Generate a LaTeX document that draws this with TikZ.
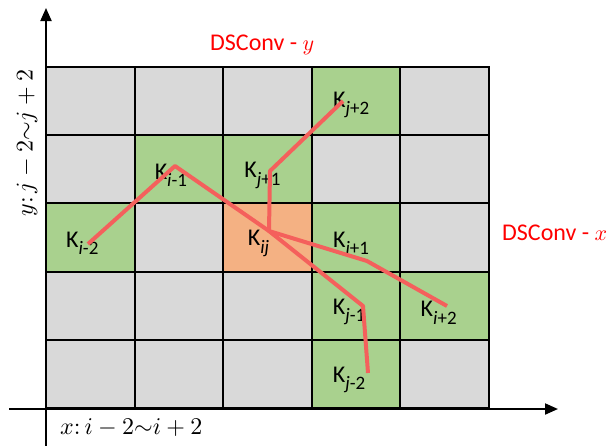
\documentclass[tikz,border=0pt]{standalone}
\usepackage{fontspec}
\setmainfont{Carlito}
\usepackage{graphicx}
\usepackage{tikz}
\usetikzlibrary{arrows.meta,positioning,calc}
\definecolor{kgray}{RGB}{217,217,217}
\definecolor{kgreen}{RGB}{169,209,142}
\definecolor{korange}{RGB}{244,177,131}
\definecolor{kred}{RGB}{244,96,92}
\tikzset{
  cell/.style={draw, line width=2pt, fill=kgray, minimum width=88.6pt,
               minimum height=68.2pt, inner sep=0pt},
  klabel/.style={inner sep=0pt, font=\fontsize{24}{26}\selectfont},
  path/.style={kred, line width=4pt, line join=round},
  axis/.style={line width=2pt, -{Triangle[length=13pt,width=11pt]}},
  title/.style={text=red, inner sep=0pt, font=\fontsize{24}{26}\selectfont},
  axlabel/.style={inner sep=0pt},
}
\newcommand{\ksub}[2]{K\raisebox{-7.5pt}{\fontsize{19}{19}\selectfont\textit{#1}#2}}
\newcommand{\bigmath}[2][2.4]{\scalebox{#1}{\fontsize{10}{12}\selectfont$#2$}}

\begin{document}
\begin{tikzpicture}[x=1pt, y=-1pt]
  \useasboundingbox (0,0) rectangle (615,445);
  % grid
  \foreach \c in {0,...,4}
    \foreach \r in {0,...,4}
      \node[cell] (c\c\r) at ({90.3+88.6*\c},{101.1+68.2*\r}) {};
  \foreach \c/\r in {3/0,1/1,2/1,0/2,3/2,3/3,4/3,3/4}
    \node[cell, fill=kgreen] (g\c\r) at (c\c\r) {};
  \node[cell, fill=korange] (o22) at (c22) {};
  % labels
  \node[klabel, xshift=-8pt, yshift=-6pt] (kim2) at (c02) {\ksub{i}{-2}};
  \node[klabel, xshift=-8pt, yshift=-6pt] (kim1) at (c11) {\ksub{i}{-1}};
  \node[klabel, xshift=-5pt, yshift=-6pt] (kjp1) at (c21) {\ksub{j}{+1}};
  \node[klabel, xshift=-5pt, yshift=-4pt] (kjp2) at (c30) {\ksub{j}{+2}};
  \node[klabel, xshift=-9pt, yshift=-6pt] (kij) at (c22) {\ksub{ij}{}};
  \node[klabel, xshift=-5pt, yshift=-6pt] (kip1) at (c32) {\ksub{i}{+1}};
  \node[klabel, xshift=-7pt, yshift=-6pt] (kjm1) at (c33) {\ksub{j}{-1}};
  \node[klabel, xshift=-6pt, yshift=-7pt] (kip2) at (c43) {\ksub{i}{+2}};
  \node[klabel, xshift=-7pt, yshift=-6pt] (kjm2) at (c34) {\ksub{j}{-2}};
  % axes
  \coordinate (ax0) at (9,409);
  \coordinate (ax1) at (558,409);
  \coordinate (ay0) at (46,446);
  \coordinate (ay1) at (46,8);
  \draw[axis] (ax0) -- (ax1);
  \draw[axis] (ay0) -- (ay1);
  \node[axlabel, anchor=west] (xlab) at (60,428)
    {\bigmath{x\mathpunct{:}i-2{\sim}i+2}};
  \node[axlabel, rotate=90] (ylab) at (27,143)
    {\bigmath{y\mathpunct{:}j-2{\sim}j+2}};
  \node[title, anchor=west] (dsy) at (210,45) {DSConv - \bigmath[2.2]{y}};
  \node[title, anchor=west] (dsx) at (502,233) {DSConv - \bigmath[2.2]{x}};
  % paths
  \coordinate (ctr) at (269,231);
  \coordinate (xa) at (88,244);
  \coordinate (xb) at (175,166);
  \coordinate (xd) at (367,261);
  \coordinate (xe) at (447,306);
  \coordinate (ya) at (343,101);
  \coordinate (yb) at (270,171);
  \coordinate (yd) at (363,306);
  \coordinate (ye) at (368,373);
  \draw[path] (xa) -- (xb) -- (ctr) -- (xd) -- (xe);
  \draw[path] (ya) -- (yb) -- (ctr) -- (yd) -- (ye);
\end{tikzpicture}
\end{document}
